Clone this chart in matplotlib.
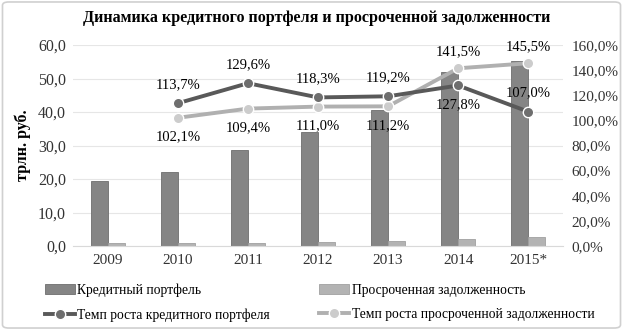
import matplotlib.pyplot as plt
import numpy as np
from matplotlib.patches import FancyBboxPatch
from matplotlib.ticker import FuncFormatter

plt.rcParams['font.family'] = ['Liberation Serif', 'DejaVu Serif']

years = ['2009', '2010', '2011', '2012', '2013', '2014', '2015*']
portfolio = [19.3, 22.0, 28.7, 34.0, 40.6, 52.0, 55.2]
overdue = [1.0, 1.0, 1.0, 1.2, 1.4, 2.0, 2.7]
growth_years = [1, 2, 3, 4, 5, 6]
portfolio_growth = [113.7, 129.6, 118.3, 119.2, 127.8, 107.0]
overdue_growth = [102.1, 109.4, 111.0, 111.2, 141.5, 145.5]
# label placement: above (True) / below (False)
pg_above = [True, True, True, True, False, True]
og_above = [False, False, False, False, True, True]

fig = plt.figure(figsize=(6.23, 3.30), dpi=100)
ax = fig.add_axes([0.117, 0.2545, 0.787, 0.609])
ax2 = ax.twinx()

x = np.arange(len(years))
w = 0.24
b1 = ax.bar(x - w / 2, portfolio, w, color='#858585', edgecolor='#6e6e6e', linewidth=0.6,
            label='Кредитный портфель', zorder=2)
b2 = ax.bar(x + w / 2, overdue, w, color='#b3b3b3', edgecolor='#a0a0a0', linewidth=0.6,
            label='Просроченная задолженность', zorder=2)

ax.set_ylim(0, 60)
ax.set_yticks(np.arange(0, 61, 10))
ax.yaxis.set_major_formatter(FuncFormatter(lambda v, p: f'{v:.1f}'.replace('.', ',')))
ax.set_xlim(-0.5, len(years) - 0.5)
ax.set_xticks(x)
ax.set_xticklabels(years)
ax.grid(axis='y', color='#e6e6e6', linewidth=0.8, zorder=0)
ax.set_axisbelow(True)
ax.set_ylabel('трлн. руб.', fontsize=11.5, fontweight='bold', labelpad=5)
ax.tick_params(axis='y', length=0, labelsize=11.5, colors='#333333', pad=5)
ax.tick_params(axis='x', length=0, labelsize=11, colors='#333333', pad=6)
for s in ax.spines.values():
    s.set_visible(False)
ax.spines['bottom'].set_visible(True)
ax.spines['bottom'].set_color('#d9d9d9')

l1, = ax2.plot(growth_years, portfolio_growth, color='#595959', lw=2.8, marker='o', ms=7.5,
               mfc='#6e6e6e', mec='white', mew=1.0, label='Темп роста кредитного портфеля', zorder=4)
l2, = ax2.plot(growth_years, overdue_growth, color='#b0b0b0', lw=2.8, marker='o', ms=7.5,
               mfc='#cccccc', mec='white', mew=1.0, label='Темп роста просроченной задолженности', zorder=3)
ax2.set_ylim(0, 160)
ax2.set_yticks(np.arange(0, 161, 20))
ax2.yaxis.set_major_formatter(FuncFormatter(lambda v, p: f'{v:.1f}%'.replace('.', ',')))
ax2.tick_params(length=0, labelsize=11, colors='#333333', pad=6)
for s in ax2.spines.values():
    s.set_visible(False)

for xi, v, up in zip(growth_years, portfolio_growth, pg_above):
    ax2.annotate(f'{v:.1f}%'.replace('.', ','), (xi, v), xytext=(0, 9 if up else -9),
                 textcoords='offset points', ha='center', va='bottom' if up else 'top', fontsize=10.5)
for xi, v, up in zip(growth_years, overdue_growth, og_above):
    ax2.annotate(f'{v:.1f}%'.replace('.', ','), (xi, v), xytext=(0, 7 if up else -9),
                 textcoords='offset points', ha='center', va='bottom' if up else 'top', fontsize=10.5)

fig.text(0.508, 0.945, 'Динамика кредитного портфеля и просроченной задолженности',
         ha='center', va='center', fontsize=11.6, fontweight='bold')

fig.legend([b1, l1, b2, l2],
           ['Кредитный портфель', 'Темп роста кредитного портфеля',
            'Просроченная задолженность', 'Темп роста просроченной задолженности'],
           ncol=2, loc='lower left', bbox_to_anchor=(0.052, -0.012), frameon=False,
           fontsize=9.8, handlelength=2.2, handletextpad=0.2, columnspacing=3.6,
           labelspacing=0.85)

border = FancyBboxPatch((0.004, 0.006), 0.992, 0.988, boxstyle='round,pad=0,rounding_size=0.01',
                        transform=fig.transFigure, fill=False, edgecolor='#d0d0d0', linewidth=1.2)
fig.patches.append(border)

fig.savefig('out.png', dpi=100)
